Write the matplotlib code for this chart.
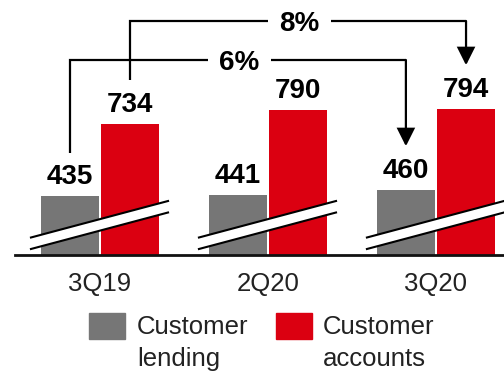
import numpy as np
import matplotlib
matplotlib.use("Agg")
import matplotlib.pyplot as plt
from matplotlib.patches import Polygon, Rectangle

plt.rcParams['font.family'] = ['Liberation Sans', 'DejaVu Sans']

# quarterly balances ($bn)
quarters = ['3Q19', '2Q20', '3Q20']
lending = [435, 441, 460]
accounts = [734, 790, 794]
series_names = ['Customer\nlending', 'Customer\naccounts']

GREY = '#767676'
RED = '#db0011'

# broken axis: each series is drawn from its own cut-off value
LENDING_CUT = 200
ACCOUNTS_CUT = 210

W, H = 504, 375
fig = plt.figure(figsize=(W / 100, H / 100), dpi=100)
ax = fig.add_axes([15 / W, 120 / H, 489 / W, 255 / H])

x = np.arange(len(quarters))
bw = 0.345
off = 0.179

lend_h = np.array(lending) - LENDING_CUT
acc_h = np.array(accounts) - ACCOUNTS_CUT

ax.bar(x - off, lend_h, bw, color=GREY, zorder=2)
ax.bar(x + off, acc_h, bw, color=RED, zorder=2)

ax.set_xlim(-0.506, 2.405)
ax.set_ylim(0, 1020)

for s in ['top', 'right', 'left']:
    ax.spines[s].set_visible(False)
ax.spines['bottom'].set_linewidth(2)
ax.spines['bottom'].set_color('#111111')
ax.spines['bottom'].set_zorder(5)
ax.set_yticks([])
ax.set_xticks(x)
ax.set_xticklabels(quarters, fontsize=18.5, color='#222222')
ax.tick_params(axis='x', length=0, pad=12.5)

# value labels
for xi, h, v in zip(x - off, lend_h, lending):
    ax.annotate(str(v), (xi, h), xytext=(0, 8.6), textcoords='offset points',
                ha='center', va='baseline', fontsize=20, fontweight='bold')
for xi, h, v in zip(x + off, acc_h, accounts):
    ax.annotate(str(v), (xi, h), xytext=(0, 8.6), textcoords='offset points',
                ha='center', va='baseline', fontsize=20, fontweight='bold')

# axis-break bands across each group
for xi in x:
    lo = [(xi - 0.411, 24), (xi + 0.405, 170)]
    hi = [(xi - 0.411, 70), (xi + 0.405, 216)]
    band = Polygon([lo[0], lo[1], hi[1], hi[0]], closed=True,
                   facecolor='white', edgecolor='none', zorder=3, clip_on=False)
    ax.add_patch(band)
    for seg in (lo, hi):
        ax.plot([seg[0][0], seg[1][0]], [seg[0][1], seg[1][1]], color='black',
                lw=1.5, zorder=4, clip_on=False)


def bracket(x0, y0, x1, y1, top, label):
    ax.plot([x0, x0, x1], [y0, top, top], color='black', lw=1.6, zorder=6,
            clip_on=False, solid_joinstyle='miter', solid_capstyle='butt')
    ax.annotate('', xy=(x1, y1), xytext=(x1, top),
                arrowprops=dict(arrowstyle='-|>,head_length=0.4,head_width=0.2',
                                mutation_scale=27, lw=1.6, color='black',
                                shrinkA=0, shrinkB=0, joinstyle='miter'),
                zorder=6)
    ax.annotate(label, ((x0 + x1) / 2 + 0.01, top), xytext=(0, -7.2),
                textcoords='offset points', ha='center', va='baseline',
                fontsize=20, fontweight='bold', zorder=7,
                bbox=dict(boxstyle='square,pad=0.4', fc='white', ec='none'))


gap = 175
lend_pct = round((lending[-1] / lending[0] - 1) * 100)
acc_pct = round((accounts[-1] / accounts[0] - 1) * 100)
bracket(x[0] - off, lend_h[0] + gap, x[2] - off, lend_h[2] + gap, 780,
        f'{lend_pct}%')
bracket(x[0] + off, acc_h[0] + gap, x[2] + off, acc_h[2] + gap, 936,
        f'{acc_pct}%')

# legend
for (lx, tx), col, name in zip([(89, 137), (276, 323)], [GREY, RED], series_names):
    fig.add_artist(Rectangle((lx / W, (H - 339) / H), 36 / W, 26 / H,
                             transform=fig.transFigure, color=col))
    fig.text(tx / W, (H - 315) / H, name, ha='left', va='top', fontsize=18.5,
             color='#222222', linespacing=1.4)

fig.savefig('out.png', dpi=100)
